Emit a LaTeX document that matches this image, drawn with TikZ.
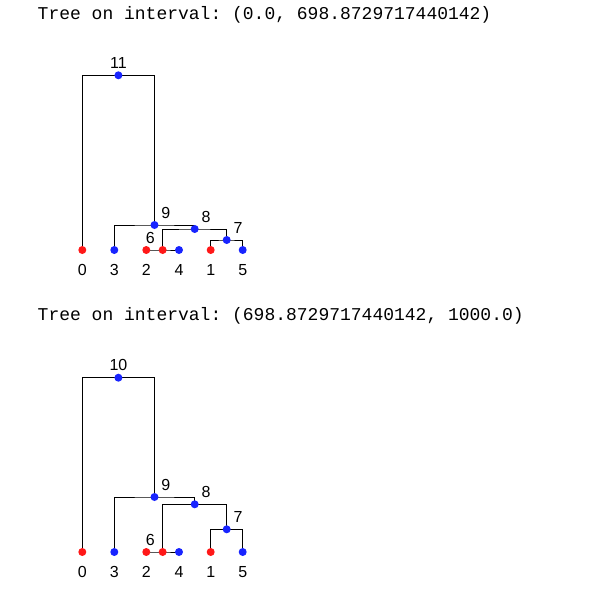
\documentclass[tikz,border=0pt]{standalone}
\usepackage{fontspec}
\setmainfont{Liberation Sans}
\setmonofont{Liberation Mono}
\usetikzlibrary{positioning,backgrounds}
\definecolor{sampred}{RGB}{255,24,24}
\definecolor{sampblue}{RGB}{24,36,255}

\begin{document}
\begin{tikzpicture}[x=1pt,y=-1pt,
    base node/.style={circle,inner sep=0pt,minimum size=8pt},
    red node/.style={base node,fill=sampred},
    blue node/.style={base node,fill=sampblue},
    num/.style={inner sep=0pt,font=\fontsize{16}{17}\selectfont},
    title/.style={anchor=base west,inner sep=0pt,font=\ttfamily\fontsize{18}{19}\selectfont},
    branch/.style={line width=0.85pt}]

  \path[use as bounding box] (0,0) rectangle (611,592);

  % first tree
  \node[title] (title1) at (37.5,19.5) {Tree on interval: (0.0, 698.8729717440142)};

  \node[red node]  (s0) at (82.3,250) {};
  \node[blue node] (s3) at (114.3,250) {};
  \node[red node]  (s2) at (146.3,250) {};
  \node[blue node] (s4) at (179,250) {};
  \node[red node]  (s1) at (210.7,250) {};
  \node[blue node] (s5) at (242.7,250) {};
  \node[red node]  (s6) at (162.65,250) {};
  \node[blue node] (s7) at (226.7,240) {};
  \node[blue node] (s8) at (194.7,229) {};
  \node[blue node] (s9) at (154.5,225) {};
  \node[blue node] (s11) at (118.4,75.3) {};

  \foreach \n in {0,1,2,3,4,5}
    \node[num,below=9.8pt of s\n] (ls\n) {\n};
  \node[num,above left=3.6pt and 4.8pt of s6]  (ls6) {6};
  \node[num,above right=3.6pt and 3.8pt of s7] (ls7) {7};
  \node[num,above right=3.6pt and 3.8pt of s8] (ls8) {8};
  \node[num,above right=3.6pt and 3.8pt of s9] (ls9) {9};
  \node[num,above=2.6pt of s11] (ls11) {11};

  \begin{pgfonlayer}{background}
    \draw[branch] (s2.center) |- (s6.center) -| (s4.center);
    \draw[branch] (s1.center) |- (s7.center) -| (s5.center);
    \draw[branch] (s6.center) |- (s8.center) -| (s7.center);
    \draw[branch] (s3.center) |- (s9.center) -| (s8.center);
    \draw[branch] (s0.center) |- (s11.center) -| (s9.center);
  \end{pgfonlayer}

  % second tree
  \node[title] (title2) at (37.5,320.5) {Tree on interval: (698.8729717440142, 1000.0)};

  \node[red node]  (t0) at (82.3,552) {};
  \node[blue node] (t3) at (114.3,552) {};
  \node[red node]  (t2) at (146.3,552) {};
  \node[blue node] (t4) at (179,552) {};
  \node[red node]  (t1) at (210.7,552) {};
  \node[blue node] (t5) at (242.7,552) {};
  \node[red node]  (t6) at (162.65,552) {};
  \node[blue node] (t7) at (226.7,529.3) {};
  \node[blue node] (t8) at (194.7,504.3) {};
  \node[blue node] (t9) at (154.5,497) {};
  \node[blue node] (t10) at (118.4,377.7) {};

  \foreach \n in {0,1,2,3,4,5}
    \node[num,below=9.8pt of t\n] (lt\n) {\n};
  \node[num,above left=3.6pt and 4.8pt of t6]  (lt6) {6};
  \node[num,above right=3.6pt and 3.8pt of t7] (lt7) {7};
  \node[num,above right=3.6pt and 3.8pt of t8] (lt8) {8};
  \node[num,above right=3.6pt and 3.8pt of t9] (lt9) {9};
  \node[num,above=2.6pt of t10] (lt10) {10};

  \begin{pgfonlayer}{background}
    \draw[branch] (t2.center) |- (t6.center) -| (t4.center);
    \draw[branch] (t1.center) |- (t7.center) -| (t5.center);
    \draw[branch] (t6.center) |- (t8.center) -| (t7.center);
    \draw[branch] (t3.center) |- (t9.center) -| (t8.center);
    \draw[branch] (t0.center) |- (t10.center) -| (t9.center);
  \end{pgfonlayer}
\end{tikzpicture}
\end{document}
